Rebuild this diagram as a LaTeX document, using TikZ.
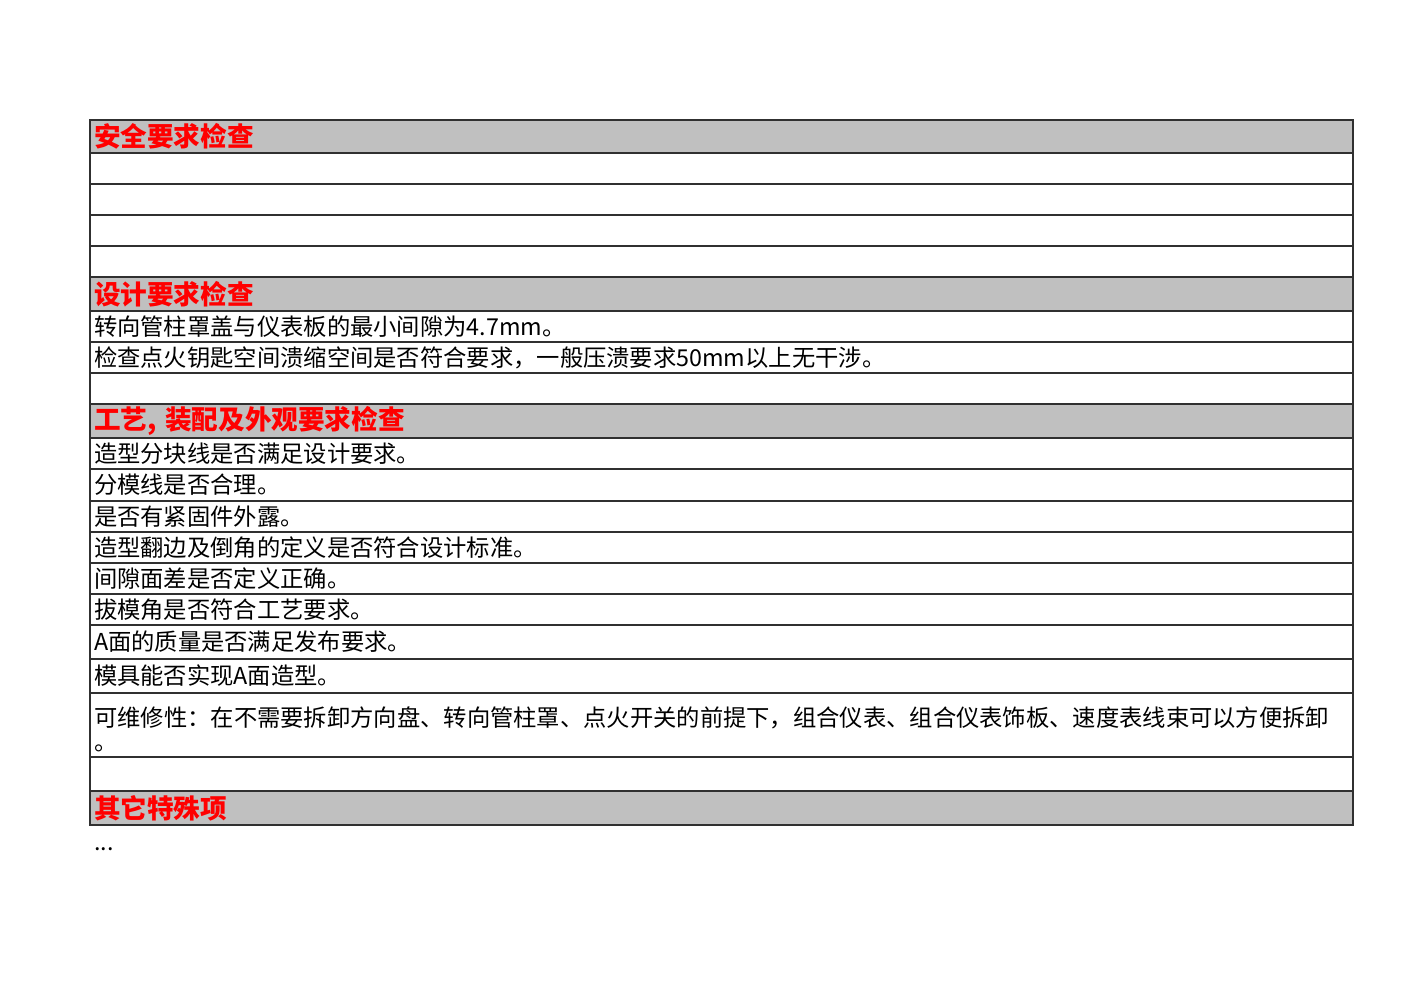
\documentclass[tikz,border=0pt]{standalone}
\usepackage{fontspec}
\setmainfont{Noto Sans CJK SC}
\newfontfamily\cjk{Noto Sans CJK SC}
\definecolor{hdrgray}{HTML}{C0C0C0}
\definecolor{rulegray}{HTML}{303030}
\definecolor{hdrred}{HTML}{FF0000}
\tikzset{
  rowcell/.style={draw=rulegray, line width=1.6pt, anchor=north west, outer sep=0pt,
    inner xsep=4pt, inner ysep=0pt, text width=1255pt, align=left,
    font=\cjk\fontsize{23.3}{27}\selectfont, text=black},
  hdrcell/.style={rowcell, fill=hdrgray, text=hdrred,
    font=\cjk\bfseries\fontsize{26.6}{30}\selectfont},
  celltext/.style={anchor=west, inner sep=0pt, font=\cjk\fontsize{23.3}{27}\selectfont},
}
\begin{document}
\begin{tikzpicture}[x=1pt,y=1pt]
\useasboundingbox[fill=white] (0,0) rectangle (1403,-992);
\node[hdrcell, minimum height=33pt] (h1) at (90,-120) {安全要求检查};
\node[rowcell, minimum height=31pt] (r1) at (90,-153) {};
\node[rowcell, minimum height=31pt] (r2) at (90,-184) {};
\node[rowcell, minimum height=31pt] (r3) at (90,-215) {};
\node[rowcell, minimum height=31pt] (r4) at (90,-246) {};
\node[hdrcell, minimum height=34pt] (h2) at (90,-277) {设计要求检查};
\node[rowcell, minimum height=31pt] (r5) at (90,-311) {转向管柱罩盖与仪表板的最小间隙为4.7mm。};
\node[rowcell, minimum height=31pt] (r6) at (90,-342) {检查点火钥匙空间溃缩空间是否符合要求，一般压溃要求50mm以上无干涉。};
\node[rowcell, minimum height=31pt] (r7) at (90,-373) {};
\node[hdrcell, minimum height=34pt] (h3) at (90,-404) {工艺, 装配及外观要求检查};
\node[rowcell, minimum height=31pt] (r8) at (90,-438) {造型分块线是否满足设计要求。};
\node[rowcell, minimum height=32pt] (r9) at (90,-469) {分模线是否合理。};
\node[rowcell, minimum height=31pt] (r10) at (90,-501) {是否有紧固件外露。};
\node[rowcell, minimum height=31pt] (r11) at (90,-532) {造型翻边及倒角的定义是否符合设计标准。};
\node[rowcell, minimum height=31pt] (r12) at (90,-563) {间隙面差是否定义正确。};
\node[rowcell, minimum height=31pt] (r13) at (90,-594) {拔模角是否符合工艺要求。};
\node[rowcell, minimum height=34pt] (r14) at (90,-625) {A面的质量是否满足发布要求。};
\node[rowcell, minimum height=34pt] (r15) at (90,-659) {模具能否实现A面造型。};
\node[rowcell, minimum height=64pt] (r16) at (90,-693) {};
\node[celltext] (r16a) at (94,-718) {可维修性：在不需要拆卸方向盘、转向管柱罩、点火开关的前提下，组合仪表、组合仪表饰板、速度表线束可以方便拆卸};
\node[celltext] (r16b) at (94,-748) {。};
\node[rowcell, minimum height=34pt] (r17) at (90,-757) {};
\node[hdrcell, minimum height=34pt] (h4) at (90,-791) {其它特殊项};
\node[celltext] (more) at (94,-849) {...};
\end{tikzpicture}
\end{document}
